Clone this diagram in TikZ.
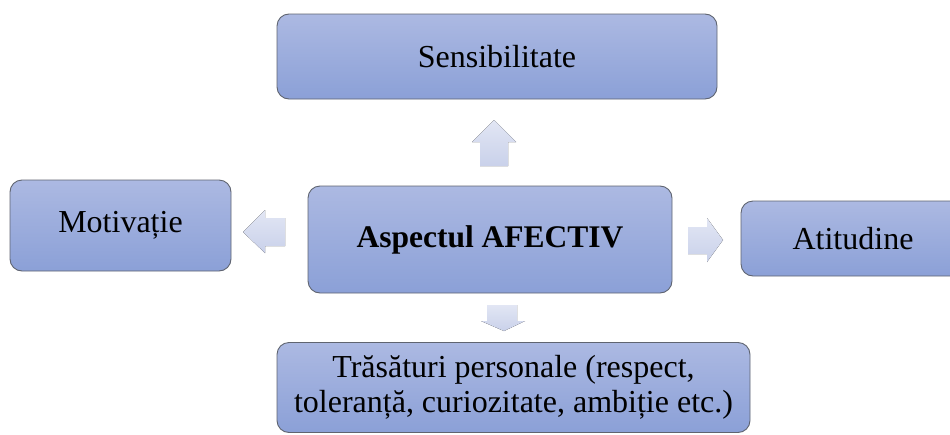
\documentclass[tikz,border=0pt]{standalone}
\usepackage{fontspec}
\setmainfont{Liberation Serif}
\definecolor{boxtop}{HTML}{ACB9E2}
\definecolor{boxbot}{HTML}{8BA0D7}
\definecolor{boxline}{HTML}{5F6470}
\definecolor{arrtop}{HTML}{E2E6F4}
\definecolor{arrbot}{HTML}{C9D1EA}
\tikzset{
  box/.style={rectangle, rounded corners=12pt, draw=boxline, line width=0.9pt,
    top color=boxtop, bottom color=boxbot, align=center, inner sep=0pt,
    font=\fontsize{32}{35}\selectfont},
  blockarrow/.style={top color=arrtop, bottom color=arrbot, draw=none}
}
\begin{document}
\begin{tikzpicture}[x=1pt,y=-1pt]
\useasboundingbox (0,0) rectangle (950,434);
\begin{scope}
\clip (0,0) rectangle (950,434);
% boxes
\node[box, minimum width=440, minimum height=85] (sens) at (497,56.5) {Sensibilitate};
\node[box, minimum width=364, minimum height=107, font=\fontsize{31.5}{35}\selectfont\bfseries] (center) at (490,239.5) {Aspectul AFECTIV};
\node[box, minimum width=221, minimum height=91] (motiv) at (120.5,225.5) {Motiva\char"021B ie};
\node[box, minimum width=224, minimum height=75] (atit) at (853,238.5) {Atitudine};
\node[box, minimum width=473, minimum height=90] (trait) at (513.5,387.5) {Tr\u{a}s\u{a}turi personale (respect,\\toleran\char"021B\u{a}, curiozitate, ambi\char"021B ie etc.)};
% block arrows
\fill[blockarrow] (480,166) -- (480,142) -- (472,142) -- (494,120) -- (516,142) -- (508,142) -- (508,166) -- cycle;
\fill[blockarrow] (285,218) -- (265,218) -- (265,210) -- (243,232) -- (265,253) -- (265,246) -- (285,246) -- cycle;
\fill[blockarrow] (688,227) -- (707,227) -- (707,218) -- (723,240) -- (707,262) -- (707,254) -- (688,254) -- cycle;
\fill[blockarrow] (487,305) -- (517,305) -- (517,321) -- (525,321) -- (504,331) -- (481,321) -- (487,321) -- cycle;
\end{scope}
\end{tikzpicture}
\end{document}
